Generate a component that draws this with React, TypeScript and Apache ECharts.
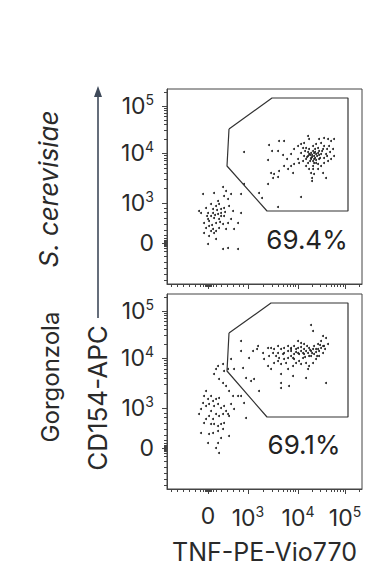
import React, { useEffect, useRef } from "react";
import * as echarts from "echarts";

// Axis display units (logicle-like): positions of the labelled ticks
const TICK_POS = [0, 40, 90, 137];
const TICK_EXP = ["", "3", "4", "5"];
const AXIS_MIN = -41;
const AXIS_MAX = 154;
const LINEAR_MINOR = [-37, -31, -25, -19, -13, -8, -5, -3, -2, -1, -0.5, 0.5, 1, 2, 3, 5, 8, 13, 19, 25, 31, 35];

const PANEL_LABELS = ["S. cerevisiae", "Gorgonzola"];
const Y_TITLE = "CD154-APC";
const X_TITLE = "TNF-PE-Vio770";
const PCT_TEXT = ["69.4%", "69.1%"];
const PCT_POS = [[99, 4], [96, 4]];

const GATE_TOP = [[21, 114], [64, 145], [140, 145], [140, 32], [59, 32], [19, 77]];
const GATE_BOTTOM = [[21, 115], [63, 145], [140, 145], [140, 31], [59, 31], [19, 77]];

const TOP_GATED = [
  [36, 91], [61, 98], [64, 92], [71, 102], [76, 102], [70, 92], [60, 83], [75, 88], [79, 84], [83, 89],
  [86, 94], [90, 97], [93, 99], [96, 100], [100, 107], [101, 104], [98, 95], [101, 94], [105, 97], [108, 99],
  [111, 104], [113, 100], [116, 105], [120, 104], [123, 102], [126, 104], [121, 97], [125, 94], [126, 87], [123, 84],
  [118, 89], [115, 94], [110, 90], [106, 87], [103, 84], [100, 80], [96, 87], [93, 90], [90, 84], [86, 79],
  [83, 77], [85, 70], [80, 74], [76, 77], [71, 72], [66, 69], [63, 70], [65, 65], [70, 66], [60, 59],
  [104, 65], [104, 62], [106, 69], [110, 74], [113, 77], [116, 80], [120, 82], [115, 70], [118, 65], [111, 84],
  [108, 80], [105, 77], [101, 74], [98, 77], [95, 82], [91, 80], [107, 94], [103, 90], [100, 87], [105, 92],
  [110, 95], [113, 89], [116, 85], [106, 84], [103, 85], [108, 89], [111, 92], [106, 80], [110, 79],
  [101, 89], [104, 88], [106, 90], [102, 82], [107, 85], [109, 87], [98, 84], [100, 91], [112, 85], [105, 74],
  [103, 70], [116, 97], [119, 94], [97, 92], [95, 95], [51, 50], [54, 45], [70, 36], [93, 46], [36, 59],
  [104, 86], [108, 83], [102, 88], [99, 86], [111, 88], [107, 91], [105, 82], [114, 92], [119, 87], [122, 91],
];
const TOP_UNGATED = [
  [-5, 49], [6, 50], [15, 56], [16, 47], [20, 44], [10, 42], [3, 39], [-2, 35], [-9, 32], [-7, 30],
  [0, 30], [5, 34], [8, 37], [11, 39], [13, 34], [16, 35], [21, 37], [25, 32], [33, 30], [30, 20],
  [23, 24], [20, 20], [16, 27], [13, 27], [10, 29], [6, 25], [3, 27], [0, 24], [-4, 20], [-2, 15],
  [1, 17], [5, 14], [8, 12], [3, 12], [6, 10], [11, 15], [15, 19], [18, 14], [26, 14], [-4, 10],
  [1, 7], [8, 4], [0, -1], [15, -6], [20, -5], [30, -6], [33, 49], [18, 52], [23, 49], [5, 30],
  [11, 24], [1, 22], [8, 20], [13, 30], [9, 33], [4, 18], [12, 21], [7, 28], [-1, 27], [17, 31],
];

const BOTTOM_GATED = [
  [103, 123], [105, 117], [115, 112], [118, 110], [113, 107], [110, 104], [106, 102], [101, 100], [96, 104], [93, 105],
  [90, 107], [86, 102], [83, 100], [80, 102], [76, 100], [73, 99], [70, 95], [66, 99], [63, 100], [60, 100],
  [50, 102], [49, 99], [45, 97], [41, 90], [33, 107], [33, 97], [35, 80], [26, 79], [23, 89], [38, 70],
  [43, 67], [46, 69], [51, 57], [60, 82], [63, 79], [66, 85], [70, 87], [73, 84], [76, 89], [80, 90],
  [83, 92], [86, 94], [90, 95], [93, 97], [96, 99], [100, 95], [103, 97], [106, 94], [110, 99], [113, 100],
  [116, 102], [120, 104], [115, 95], [111, 92], [108, 89], [105, 85], [101, 82], [98, 85], [95, 90], [91, 87],
  [88, 85], [85, 82], [80, 79], [73, 74], [73, 65], [81, 62], [73, 60], [85, 72], [98, 70], [118, 65],
  [56, 89], [55, 95], [70, 102], [76, 95], [83, 97], [90, 100], [96, 94], [103, 92], [108, 99], [80, 97],
  [86, 89], [93, 84], [100, 79], [61, 92], [68, 92], [71, 90], [75, 94], [78, 85], [65, 95], [83, 99],
  [88, 99], [91, 94], [98, 97], [101, 92], [105, 99], [111, 97], [115, 102], [95, 95], [85, 90],
  [93, 101], [99, 102], [104, 95], [108, 96], [112, 103], [88, 96], [97, 91], [102, 98], [109, 92], [117, 99],
];
const BOTTOM_UNGATED = [
  [8, 79], [10, 82], [6, 74], [15, 84], [16, 77], [20, 79], [11, 69], [15, 65], [18, 62], [21, 57],
  [25, 52], [30, 52], [33, 52], [36, 45], [38, 30], [-2, 57], [-4, 52], [-5, 45], [-7, 39], [-9, 34],
  [-2, 42], [1, 44], [5, 47], [8, 49], [11, 50], [3, 37], [6, 42], [10, 44], [13, 40], [16, 42],
  [18, 37], [20, 34], [21, 32], [15, 34], [11, 32], [8, 34], [5, 29], [1, 32], [-2, 29], [-4, 25],
  [3, 24], [6, 24], [10, 22], [13, 24], [16, 25], [15, 19], [10, 17], [5, 15], [1, 14], [-7, 15],
  [0, 5], [10, 5], [8, 0], [11, -5], [21, 12], [13, 10], [3, 52], [0, 49], [23, 44], [26, 39],
];

const FONT = 'Inter, "Noto Sans", sans-serif';
const INK = "#2a2a2a";
const LINE = "#444";

function minorTicks(): number[] {
  const out: number[] = [...LINEAR_MINOR];
  for (let d = 1; d < TICK_POS.length - 1; d++) {
    const a = TICK_POS[d];
    const b = TICK_POS[d + 1];
    for (let k = 2; k <= 9; k++) out.push(a + (b - a) * Math.log10(k));
  }
  const last = TICK_POS[TICK_POS.length - 1];
  const span = last - TICK_POS[TICK_POS.length - 2];
  for (let k = 2; k <= 9; k++) {
    const p = last + span * Math.log10(k);
    if (p < AXIS_MAX) out.push(p);
  }
  return out;
}

function labelFmt(v: number) {
  const i = TICK_POS.indexOf(v);
  if (i < 0) return "";
  return TICK_EXP[i] ? `{b|10}{s|${TICK_EXP[i]}}` : "{b|0}";
}

const RICH = {
  b: { fontSize: 23, fontFamily: FONT, color: INK },
  s: { fontSize: 14, fontFamily: FONT, color: INK, padding: [0, 0, 14, 0] },
};

export default function App() {
  const ref = useRef<HTMLDivElement>(null);
  useEffect(() => {
    if (!ref.current) return;
    const chart = echarts.init(ref.current, undefined, { renderer: "svg" });
    const minor = minorTicks();
    const grids = [
      { left: 167, top: 89, width: 195, height: 195 },
      { left: 167, top: 294, width: 195, height: 195 },
    ];
    const xAxis: any[] = [];
    const yAxis: any[] = [];
    grids.forEach((_, gi) => {
      const showX = gi === 1;
      xAxis.push({
        gridIndex: gi, type: "value", min: AXIS_MIN, max: AXIS_MAX, position: "bottom",
        axisLine: { show: true, onZero: false, lineStyle: { color: LINE, width: 1 } },
        axisTick: { show: true, customValues: TICK_POS, length: 5, inside: false, lineStyle: { color: LINE } },
        axisLabel: { show: showX, customValues: TICK_POS, formatter: labelFmt, rich: RICH, margin: 15 },
        splitLine: { show: false },
        name: showX ? X_TITLE : "", nameLocation: "middle", nameGap: 50,
        nameTextStyle: { fontSize: 25, fontFamily: FONT, color: INK },
      });
      xAxis.push({
        gridIndex: gi, type: "value", min: AXIS_MIN, max: AXIS_MAX, position: "bottom", offset: 0,
        axisLine: { show: false, onZero: false },
        axisTick: { show: true, customValues: minor, length: 3, inside: false, lineStyle: { color: LINE } },
        axisLabel: { show: false }, splitLine: { show: false },
      });
      yAxis.push({
        gridIndex: gi, type: "value", min: AXIS_MIN, max: AXIS_MAX, position: "left",
        axisLine: { show: true, onZero: false, lineStyle: { color: LINE, width: 1 } },
        axisTick: { show: true, customValues: TICK_POS, length: 5, inside: false, lineStyle: { color: LINE } },
        axisLabel: { show: true, customValues: TICK_POS, formatter: labelFmt, rich: RICH, margin: 13 },
        splitLine: { show: false },
      });
      yAxis.push({
        gridIndex: gi, type: "value", min: AXIS_MIN, max: AXIS_MAX, position: "left", offset: 0,
        axisLine: { show: false, onZero: false },
        axisTick: { show: true, customValues: minor, length: 3, inside: false, lineStyle: { color: LINE } },
        axisLabel: { show: false }, splitLine: { show: false },
      });
    });

    const panelData = [
      { gated: TOP_GATED, ungated: TOP_UNGATED, gate: GATE_TOP },
      { gated: BOTTOM_GATED, ungated: BOTTOM_UNGATED, gate: GATE_BOTTOM },
    ];
    const series: any[] = [];
    panelData.forEach((p, gi) => {
      const xi = gi * 2;
      const yi = gi * 2;
      series.push({
        type: "scatter", xAxisIndex: xi, yAxisIndex: yi, symbolSize: 2,
        itemStyle: { color: "#1e1e1e", opacity: 1 }, data: [...p.ungated, ...p.gated], silent: true,
      });
      series.push({
        type: "line", xAxisIndex: xi, yAxisIndex: yi, symbol: "none",
        lineStyle: { color: "#333", width: 1.2 }, data: [...p.gate, p.gate[0]], silent: true,
      });
      series.push({
        type: "scatter", xAxisIndex: xi, yAxisIndex: yi, symbolSize: 0, silent: true,
        itemStyle: { opacity: 1 },
        data: [PCT_POS[gi]],
        label: {
          show: true, position: "inside", formatter: PCT_TEXT[gi], opacity: 1,
          fontSize: 26, fontFamily: FONT, color: "#222",
        },
      });
    });

    chart.setOption({
      animation: false,
      backgroundColor: "#fff",
      grid: grids.map((g) => ({ ...g, show: true, borderColor: LINE, borderWidth: 1, backgroundColor: "transparent" })),
      xAxis,
      yAxis,
      series,
      graphic: [
        {
          type: "text", x: 48, y: 189, rotation: Math.PI / 2,
          style: { text: PANEL_LABELS[0], fontSize: 26, fontStyle: "italic", fontFamily: FONT, fill: INK, textAlign: "center", textVerticalAlign: "middle" },
        },
        {
          type: "text", x: 50, y: 377, rotation: Math.PI / 2,
          style: { text: PANEL_LABELS[1], fontSize: 24, fontFamily: FONT, fill: INK, textAlign: "center", textVerticalAlign: "middle" },
        },
        {
          type: "text", x: 97, y: 398, rotation: Math.PI / 2,
          style: { text: Y_TITLE, fontSize: 26, fontFamily: FONT, fill: INK, textAlign: "center", textVerticalAlign: "middle" },
        },
        {
          type: "line", shape: { x1: 98, y1: 318, x2: 98, y2: 94 },
          style: { stroke: "#3f4a5a", lineWidth: 1.6 },
        },
        {
          type: "polygon", shape: { points: [[98, 86], [94, 97], [102, 97]] },
          style: { fill: "#3f4a5a" },
        },
      ],
    });
    return () => chart.dispose();
  }, []);
  return <div ref={ref} style={{ position: "fixed", left: 0, top: 0, width: 369, height: 581, background: "#fff" }} />;
}
